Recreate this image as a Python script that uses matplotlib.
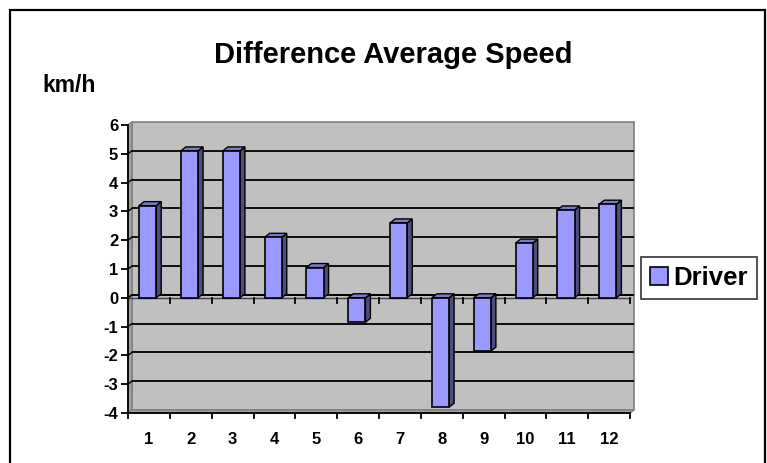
import matplotlib
matplotlib.use("Agg")
import matplotlib.pyplot as plt
from matplotlib.patches import Polygon, Rectangle

plt.rcParams['font.family'] = ['Liberation Sans', 'DejaVu Sans']

categories = ['1', '2', '3', '4', '5', '6', '7', '8', '9', '10', '11', '12']
driver = [3.2, 5.1, 5.1, 2.1, 1.05, -0.85, 2.6, -3.8, -1.85, 1.9, 3.05, 3.25]
y_ticks = [-4, -3, -2, -1, 0, 1, 2, 3, 4, 5, 6]
title = 'Difference Average Speed'
y_label = 'km/h'
series_name = 'Driver'

W, H = 767, 463
fig = plt.figure(figsize=(W / 100, H / 100), dpi=100)
fig.patch.set_facecolor('white')

# chart border
fig.add_artist(Rectangle((10 / W, 1 - 470 / H), 755 / W, 460 / H, transform=fig.transFigure,
                         fill=False, edgecolor='black', linewidth=1.6, clip_on=False))

left_px, right_px, top_px, bottom_px = 128, 630, 125, 413
ax = fig.add_axes([left_px / W, 1 - bottom_px / H, (right_px - left_px) / W, (bottom_px - top_px) / H])
n = len(categories)
x0, x1 = 0.5, n + 0.5
ymin, ymax = y_ticks[0], y_ticks[-1]
ax.set_xlim(x0, x1)
ax.set_ylim(ymin, ymax)
for s in ax.spines.values():
    s.set_visible(False)
ax.patch.set_visible(False)

pxx = (x1 - x0) / (right_px - left_px)
pxy = (ymax - ymin) / (bottom_px - top_px)
wdx, wdy = 4 * pxx, 3 * pxy  # wall depth
wall_gray = '#C0C0C0'
edge_gray = '#808080'

# back wall
ax.add_patch(Rectangle((x0 + wdx, ymin + wdy), x1 - x0, ymax - ymin, facecolor=wall_gray,
                       edgecolor=edge_gray, linewidth=1.2, zorder=1, clip_on=False))
# side wall
ax.add_patch(Polygon([(x0, ymin), (x0 + wdx, ymin + wdy), (x0 + wdx, ymax + wdy), (x0, ymax)],
                     closed=True, facecolor='#A0A0A0', edgecolor=edge_gray, linewidth=1, zorder=1, clip_on=False))
# floor
ax.add_patch(Polygon([(x0, ymin), (x1, ymin), (x1 + wdx, ymin + wdy), (x0 + wdx, ymin + wdy)],
                     closed=True, facecolor='#A0A0A0', edgecolor=edge_gray, linewidth=1, zorder=1, clip_on=False))
# gridlines
for v in y_ticks[1:-1] + [0]:
    ax.plot([x0 + wdx, x1 + wdx], [v + wdy, v + wdy], color='black', linewidth=1.3, zorder=2,
            solid_capstyle='butt', clip_on=False)
    ax.plot([x0, x0 + wdx], [v, v + wdy], color='black', linewidth=1.0, zorder=2, clip_on=False)

# bars with 3D faces
bw = 0.41
bdx, bdy = 5 * pxx, 4 * pxy
front = '#9999FF'
side = '#4D4D80'
topc = '#7A7ACC'
xs = list(range(1, n + 1))
for xc, v in zip(xs, driver):
    l = xc - bw / 2 - 0.03
    r = l + bw
    lo, hi = min(0, v), max(0, v)
    ax.add_patch(Polygon([(r, lo), (r + bdx, lo + bdy), (r + bdx, hi + bdy), (r, hi)], closed=True,
                         facecolor=side, edgecolor='black', linewidth=1.0, zorder=4, clip_on=False))
    ax.add_patch(Polygon([(l, hi), (l + bdx, hi + bdy), (r + bdx, hi + bdy), (r, hi)], closed=True,
                         facecolor=topc, edgecolor='black', linewidth=1.0, zorder=4, clip_on=False))
ax.bar([x - 0.03 for x in xs], driver, width=bw, color=front, edgecolor='black', linewidth=1.2, zorder=5,
       label=series_name)

# axes lines
ax.plot([x0, x0], [ymin, ymax], color='black', linewidth=1.3, zorder=6, clip_on=False)
ax.plot([x0, x1], [ymin, ymin], color='black', linewidth=1.3, zorder=6, clip_on=False)
ax.plot([x0, x1], [0, 0], color='#404040', linewidth=1.0, zorder=3, clip_on=False)
tk = 5 * pxy
for i in range(n + 1):
    xb = x0 + i
    ax.plot([xb, xb], [ymin, ymin - tk], color='black', linewidth=1.3, zorder=6, clip_on=False)
    if 0 < i:
        ax.plot([xb, xb], [0, -tk], color='black', linewidth=1.3, zorder=6, clip_on=False)

ax.set_yticks(y_ticks)
ax.set_yticklabels([str(t) for t in y_ticks], fontsize=12, fontweight='bold')
ax.tick_params(axis='y', length=5, width=1.3, pad=2, direction='out')
ax.set_xticks(xs)
ax.set_xticklabels(categories, fontsize=12, fontweight='bold')
ax.tick_params(axis='x', length=0, pad=14)

fig.text(393 / W, 1 - 55 / H, title, ha='center', va='center', fontsize=21, fontweight='bold')
fig.text(69 / W, 1 - 86 / H, y_label, ha='center', va='center', fontsize=16.5, fontweight='bold')

leg = ax.legend(loc='center left', bbox_to_anchor=((641 - left_px) / (right_px - left_px), (413 - 278) / (bottom_px - top_px)),
                fontsize=18.5, frameon=True, fancybox=False, handlelength=0.7, handleheight=0.7,
                handletextpad=0.2, borderpad=0.35, borderaxespad=0)
leg.get_frame().set_edgecolor('black')
leg.get_frame().set_linewidth(1.2)
for t in leg.get_texts():
    t.set_fontweight('bold')

fig.savefig('out.png', dpi=100)
